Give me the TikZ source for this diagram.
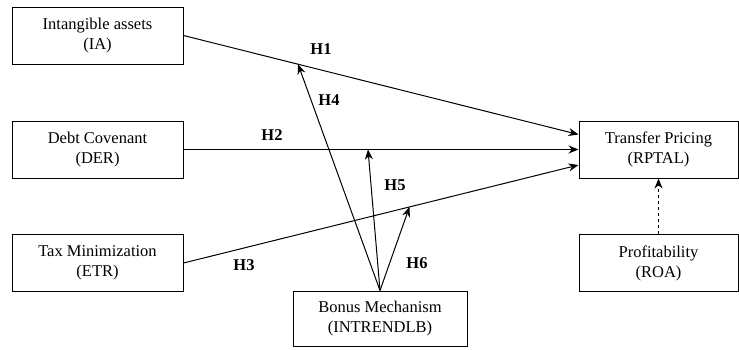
\documentclass[tikz,border=0pt]{standalone}
\usepackage{fontspec}
\setmainfont{Liberation Serif}
\usetikzlibrary{arrows.meta,calc}
\begin{document}
\begin{tikzpicture}[x=1pt,y=-1pt,
  var/.style={draw,line width=1pt,minimum width=171pt,minimum height=57pt,
    align=center,inner sep=0pt,font=\fontsize{16.5}{20}\selectfont},
  link/.style={line width=1pt,-{Stealth[length=10pt,width=8pt]}},
  hyp/.style={font=\fontsize{16.5}{18}\selectfont\bfseries}]
\useasboundingbox (0,0) rectangle (739,349);
% variables
\node[var] (ia)  at (97.5,35.5)  {Intangible assets\\(IA)};
\node[var] (der) at (97.5,149.5) {Debt Covenant\\(DER)};
\node[var] (etr) at (97.5,263)   {Tax Minimization\\(ETR)};
\node[var,minimum width=174pt,minimum height=55pt] (bon) at (380,318.5) {Bonus Mechanism\\(INTRENDLB)};
\node[var,minimum width=159pt] (tp)  at (658.5,149.5) {Transfer Pricing\\(RPTAL)};
\node[var,minimum width=159pt] (roa) at (658.5,263)   {Profitability\\(ROA)};
% direct effects
\coordinate (tpa) at ($(tp.west)+(0,-15)$);
\coordinate (tpc) at ($(tp.west)+(0,15.5)$);
\draw[link] (ia.east) -- (tpa);
\draw[link] (der.east) -- (tp.west);
\draw[link] (etr.east) -- (tpc);
% moderation of each path
\coordinate (m1) at ($(ia.east)!0.29!(tpa)$);
\coordinate (m2) at (368,149.5);
\coordinate (m3) at ($(etr.east)!0.572!(tpc)$);
\draw[link] (bon.north) -- (m1);
\draw[link] (bon.north) -- (m2);
\draw[link] (bon.north) -- (m3);
% control variable
\draw[link,dashed] (roa.north) -- (tp.south);
% hypothesis labels
\node[hyp] (h1) at (321,49)  {H1};
\node[hyp] (h2) at (272,135) {H2};
\node[hyp] (h3) at (244,265) {H3};
\node[hyp] (h4) at (329,100) {H4};
\node[hyp] (h5) at (395,185) {H5};
\node[hyp] (h6) at (417,263) {H6};
\end{tikzpicture}
\end{document}
